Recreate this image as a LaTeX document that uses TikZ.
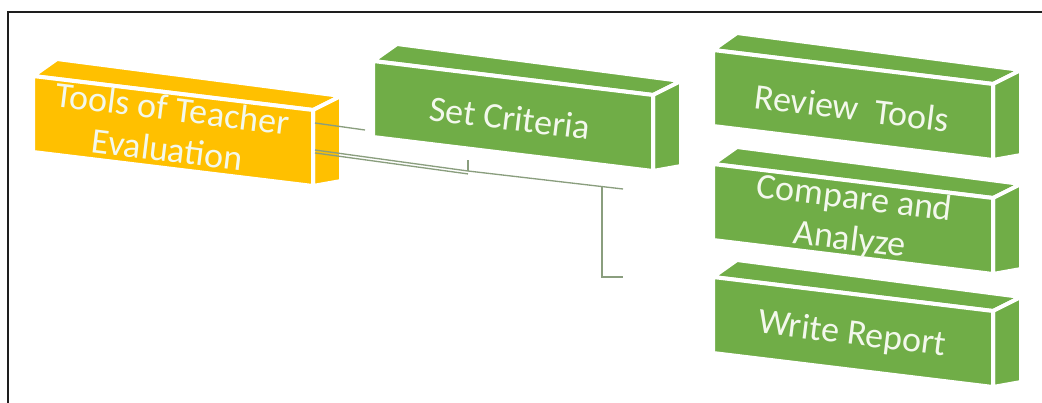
\documentclass[tikz,border=0pt]{standalone}
\usepackage{fontspec}
\setmainfont{Carlito}
\usepackage{tikz}
\usetikzlibrary{positioning,calc}
\definecolor{gold}      {HTML}{FFC000}
\definecolor{leaf}      {HTML}{70AD47}
\definecolor{wire}      {HTML}{8A9E7E}
\definecolor{frameink}  {HTML}{1E1E1E}
\definecolor{paletext}  {HTML}{F3F8EC}
\tikzset{
  % --- faces and labels
  face/.style = {draw=white, line width=3pt, line join=round},
  lbl/.style  = {text=paletext, align=center, rotate=-7, inner sep=0pt,
                 font=\fontsize{27}{31}\selectfont},
  % --- edges
  w/.style    = {draw=wire, line width=1pt},
}
% one 3d block: #1 left x, #2 top y of the front face, #3 colour
\newcommand\slab[3]{%
  \path[face, fill=#3] (#1,#2) -- (#1+24,#2-17) -- (#1+308,#2+20) -- (#1+280,#2+34) -- cycle;
  \path[face, fill=#3] (#1+280,#2+34) -- (#1+308,#2+20) -- (#1+308,#2+105) -- (#1+280,#2+110) -- cycle;
  \path[face, fill=#3] (#1,#2) -- (#1+280,#2+34) -- (#1+280,#2+110) -- (#1,#2+76) -- cycle;
}

\begin{document}
\begin{tikzpicture}[x=0.75pt, y=-0.75pt]
  \useasboundingbox (0,0) rectangle (1042,403);
  \draw[frameink, line width=1.5pt] (8,403) -- (8,12) -- (1042,12);

  \slab{33}{76}{gold}
  \slab{373}{61}{leaf}
  \slab{713}{50}{leaf}
  \slab{713}{164}{leaf}
  \slab{713}{277}{leaf}

  \node[lbl] (tools)   at (170,129) {Tools of Teacher\\Evaluation};
  \node[lbl] (crit)    at (510,118) {Set Criteria};
  \node[lbl] (review)  at (852,108) {Review\ \ Tools};
  \node[lbl] (compare) at (852,220) {Compare and\\Analyze};
  \node[lbl] (report)  at (852,335) {Write Report};

  % broken connector lines
  \coordinate (s1) at (315,123);
  \coordinate (e1) at (365,130);
  \coordinate (s2) at (315,150);
  \coordinate (k)  at (468,171);
  \coordinate (kt) at (468,160);
  \coordinate (j)  at (602,186.5);
  \coordinate (e2) at (623,189);
  \coordinate (e3) at (623,277);
  \draw[w] (s1) -- (e1);
  \draw[w] (s2) -- (k) -- (e2);
  \draw[w] ([yshift=-2.2pt]s2) -- ([yshift=-2.2pt]k);
  \draw[w] (kt) -- (k);
  \draw[w] (j) |- (e3);
\end{tikzpicture}
\end{document}
